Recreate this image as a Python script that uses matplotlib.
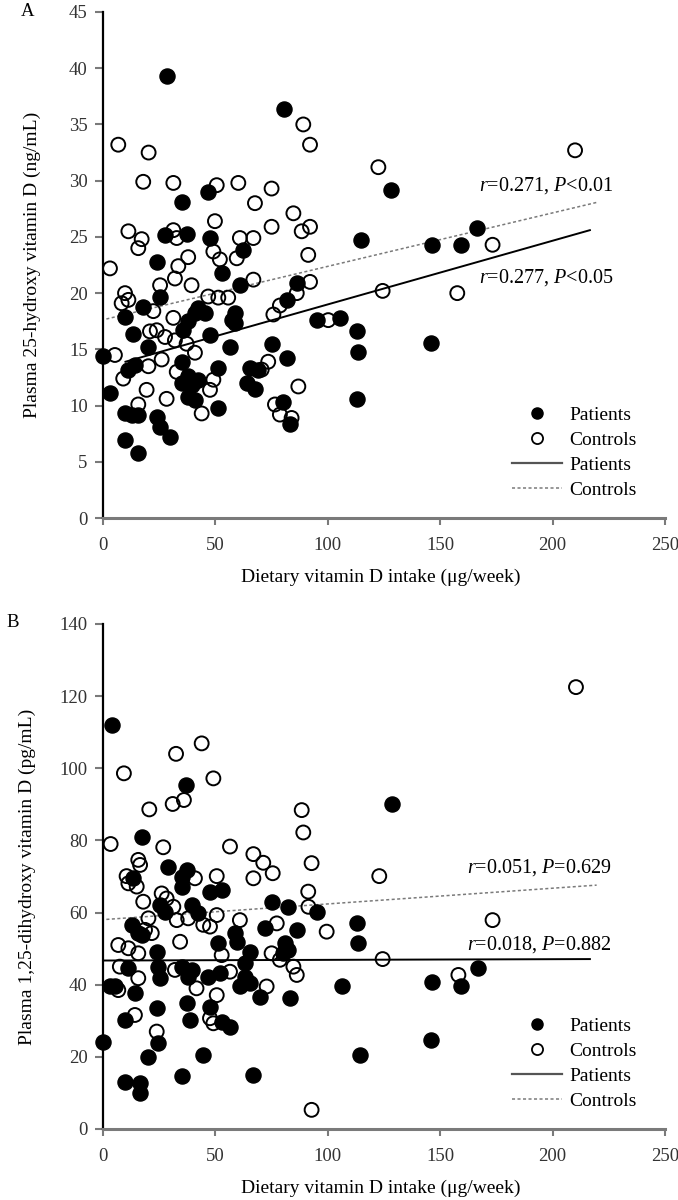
import matplotlib
matplotlib.use("Agg")
import matplotlib.pyplot as plt
from matplotlib.lines import Line2D

plt.rcParams['font.family'] = ['Liberation Serif', 'DejaVu Serif']
plt.rcParams['mathtext.fontset'] = 'custom'
plt.rcParams['mathtext.rm'] = 'Liberation Serif'
plt.rcParams['mathtext.it'] = 'Liberation Serif:italic'

# ---- panel A: 25-hydroxy vitamin D (ng/mL) vs intake ----
a_pat_x = [28.3, 80.7, 128.1, 166.5, 159.3, 146.2, 114.6, 145.8, 105.4, 112.9,
           113.6, 112.9, 95.1, 35.0, 46.8, 27.6, 37.2, 47.6, 23.9, 52.8,
           25.4, 17.9, 9.8, 40.9, 45.4, 42.4, 57.3, 13.5, 20.2, 35.7,
           47.6, 56.5, 0.0, 14.2, 11.3, 35.0, 51.3, 37.9, 42.4, 35.0,
           3.1, 37.9, 40.9, 51.3, 9.8, 15.7, 23.9, 25.4, 9.8, 29.8,
           15.7, 62.4, 60.9, 58.7, 58.7, 86.2, 81.7, 75.0, 81.7, 65.4,
           69.1, 63.9, 67.6, 80.2, 83.2, 12.7, 38.0, 39.5]
a_pat_y = [39.3, 36.4, 29.2, 25.8, 24.3, 24.3, 24.7, 15.6, 17.8, 16.6,
           14.8, 10.6, 17.6, 28.1, 29.0, 25.2, 25.3, 24.9, 22.8, 21.8,
           19.7, 18.8, 17.9, 18.2, 18.2, 18.7, 17.6, 16.4, 15.2, 16.7,
           16.3, 15.2, 14.4, 13.6, 13.2, 13.9, 13.3, 12.6, 12.3, 12.0,
           11.1, 10.8, 10.5, 9.8, 9.3, 9.2, 9.0, 8.1, 6.9, 7.2,
           5.8, 23.8, 20.7, 18.2, 17.3, 20.9, 19.4, 15.5, 14.2, 13.3,
           13.2, 12.0, 11.5, 10.3, 8.4, 9.2, 17.5, 11.8]
a_con_x = [6.8, 20.3, 89.1, 92.1, 122.5, 210.0, 173.3, 124.4, 157.6, 17.9,
           31.3, 50.6, 60.2, 75.0, 67.6, 84.7, 75.0, 88.4, 92.1, 49.8,
           11.3, 17.2, 15.7, 31.3, 32.8, 37.9, 33.5, 32.0, 39.4, 25.4,
           3.1, 49.1, 52.0, 60.9, 66.9, 59.5, 91.3, 66.9, 92.1, 9.8,
           8.3, 11.3, 22.4, 31.3, 46.8, 51.3, 55.7, 78.7, 75.8, 86.2,
           100.2, 20.9, 23.9, 27.6, 32.0, 40.9, 37.2, 5.3, 20.2, 26.1,
           9.0, 32.8, 19.4, 28.3, 47.6, 43.9, 15.7, 73.5, 70.6, 86.9,
           76.5, 78.7, 83.9, 49.1]
a_con_y = [33.2, 32.5, 35.0, 33.2, 31.2, 32.7, 24.3, 20.2, 20.0, 29.9,
           29.8, 29.6, 29.8, 29.3, 28.0, 27.1, 25.9, 25.5, 25.9, 26.4,
           25.5, 24.8, 24.0, 25.6, 24.9, 23.2, 22.4, 21.3, 20.7, 20.7,
           22.2, 23.7, 23.0, 24.9, 24.9, 23.1, 23.4, 21.2, 21.0, 20.0,
           19.1, 19.4, 18.4, 17.8, 19.7, 19.6, 19.6, 18.9, 18.1, 20.0,
           17.6, 16.6, 16.7, 16.1, 15.8, 14.7, 15.5, 14.5, 13.5, 14.1,
           12.4, 13.0, 11.4, 10.6, 11.4, 9.3, 10.1, 13.9, 13.2, 11.7,
           10.1, 9.2, 8.9, 12.3]
a_fit_pat_x = [10, 216.6]
a_fit_pat_y = [13.9, 25.6]
a_fit_con_x = [1.5, 220.3]
a_fit_con_y = [17.7, 28.1]
a_txt_con = r'$r$=0.271, $P$<0.01'
a_txt_pat = r'$r$=0.277, $P$<0.05'

# ---- panel B: 1,25-dihydroxy vitamin D (pg/mL) vs intake ----
b_pat_x = [3.9, 36.8, 17.5, 128.4, 13.5, 29.1, 37.2, 35.0, 35.0, 47.6,
           52.8, 25.4, 27.6, 39.5, 42.4, 12.7, 15.7, 23.9, 51.3, 11.3,
           24.6, 25.4, 35.0, 39.4, 3.1, 5.3, 14.2, 46.8, 52.0, 23.9,
           37.2, 38.7, 47.6, 9.8, 52.8, 56.5, 0.0, 24.6, 20.2, 44.6,
           35.0, 9.8, 16.5, 16.5, 75.0, 82.4, 95.1, 112.9, 113.6, 58.7,
           59.5, 72.1, 86.2, 80.9, 82.4, 80.2, 65.4, 63.2, 63.2, 60.9,
           65.4, 69.8, 83.2, 106.2, 66.9, 114.3, 167.0, 146.2, 159.1, 145.8,
           17.2, 38.0]
b_pat_y = [112.0, 95.4, 80.9, 90.1, 69.5, 72.5, 71.8, 67.0, 69.8, 65.8,
           66.3, 62.1, 60.2, 62.0, 59.8, 56.6, 54.3, 49.2, 51.5, 44.5,
           45.0, 41.8, 45.0, 44.1, 39.5, 39.5, 37.6, 42.2, 43.2, 33.5,
           34.8, 30.2, 33.9, 30.2, 29.7, 28.4, 24.2, 23.8, 20.0, 20.5,
           14.7, 13.1, 12.7, 9.9, 63.0, 61.6, 60.2, 57.0, 51.5, 54.3,
           51.9, 55.6, 55.2, 51.5, 49.6, 48.7, 49.2, 45.9, 42.2, 39.5,
           40.4, 36.7, 36.2, 39.5, 15.0, 20.5, 44.7, 40.8, 39.6, 24.7,
           53.8, 42.2]
b_con_x = [9.3, 32.5, 43.9, 49.1, 36.0, 31.0, 20.6, 3.4, 26.8, 56.5,
           66.9, 71.3, 75.5, 66.9, 88.4, 89.1, 92.8, 91.3, 16.5, 15.7,
           10.5, 11.3, 40.9, 50.6, 15.0, 17.9, 26.1, 28.3, 31.3, 32.8,
           37.9, 44.6, 47.6, 50.6, 20.2, 21.7, 6.8, 11.3, 15.7, 34.3,
           52.8, 7.5, 15.7, 32.0, 6.8, 41.6, 50.6, 14.2, 47.6, 49.1,
           23.9, 91.4, 99.5, 60.9, 77.3, 75.0, 78.7, 84.7, 86.2, 72.8,
           56.5, 92.8, 210.4, 122.9, 173.3, 124.4, 158.1, 18.7]
b_con_y = [98.6, 104.0, 106.9, 97.2, 91.2, 90.1, 88.6, 79.0, 78.1, 78.3,
           76.2, 73.8, 70.9, 69.5, 88.4, 82.2, 73.7, 65.8, 73.2, 74.6,
           70.1, 68.1, 69.5, 70.1, 67.2, 63.0, 65.3, 63.9, 61.6, 57.9,
           58.4, 56.6, 56.1, 59.3, 58.4, 54.3, 51.0, 50.1, 48.7, 51.9,
           48.2, 45.0, 41.8, 44.1, 38.5, 39.0, 37.1, 31.6, 30.7, 29.3,
           27.0, 61.6, 54.7, 57.9, 57.0, 48.7, 46.9, 45.0, 42.7, 39.5,
           43.6, 5.3, 122.5, 70.1, 57.9, 47.1, 42.7, 55.2]
b_fit_pat_x = [0, 216.6]
b_fit_pat_y = [46.7, 47.1]
b_fit_con_x = [1.5, 219.6]
b_fit_con_y = [58.1, 67.6]
b_txt_con = r'$r$=0.051, $P$=0.629'
b_txt_pat = r'$r$=0.018, $P$=0.882'

xlabel = 'Dietary vitamin D intake (μg/week)'
a_ylabel = 'Plasma 25-hydroxy vitamin D (ng/mL)'
b_ylabel = 'Plasma 1,25-dihydroxy vitamin D (pg/mL)'

FS = 13.5
GRAY = '#7a7a7a'


def draw_panel(ax, px, py, cx, cy, fpx, fpy, fcx, fcy, ymax, ystep,
               txt_con, pos_con, txt_pat, pos_pat, ylabel, ylab_x):
    ax.plot(fcx, fcy, color=GRAY, lw=1.1, ls=(0, (2, 1.6)), zorder=1)
    ax.plot(fpx, fpy, color='black', lw=1.4, zorder=1)
    ax.scatter(px, py, s=118, color='black', zorder=3, clip_on=False)
    ax.scatter(cx, cy, s=100, facecolors='none', edgecolors='black',
               linewidths=1.4, zorder=4, clip_on=False)
    ax.text(pos_con[0], pos_con[1], txt_con, fontsize=FS + 1, ha='center', va='center')
    ax.text(pos_pat[0], pos_pat[1], txt_pat, fontsize=FS + 1, ha='center', va='center')

    ax.set_xlim(0, 250)
    ax.set_ylim(0, ymax)
    ax.set_xticks(range(0, 251, 50))
    ax.set_yticks(range(0, ymax + 1, ystep))
    for s in ['top', 'right']:
        ax.spines[s].set_visible(False)
    ax.spines['left'].set_linewidth(1.6)
    ax.spines['left'].set_color('black')
    ax.spines['bottom'].set_linewidth(2.2)
    ax.spines['bottom'].set_color(GRAY)
    ax.tick_params(axis='y', direction='out', length=6, width=1.5, color=GRAY,
                   labelsize=FS, labelcolor='#333333', pad=5)
    ax.tick_params(axis='x', direction='out', length=5, width=1.5, color=GRAY,
                   labelsize=FS, labelcolor='#333333', pad=9)

    ax.set_xlabel(xlabel, fontsize=FS + 0.5)
    ax.xaxis.set_label_coords(0.495, -0.118)
    ax.xaxis.label.set_va('center')
    ax.set_ylabel(ylabel, fontsize=FS + 0.5)
    ax.yaxis.set_label_coords(ylab_x, 0.5)
    ax.yaxis.label.set_va('center')

    handles = [
        Line2D([], [], ls='none', marker='o', ms=8, color='black'),
        Line2D([], [], ls='none', marker='o', ms=8, mfc='none', mec='black', mew=1.3),
        Line2D([], [], color='#555555', lw=1.6),
        Line2D([], [], color=GRAY, lw=1.1, ls=(0, (2, 1.6))),
    ]
    ax.legend(handles, ['Patients', 'Controls', 'Patients', 'Controls'],
              loc='upper left', bbox_to_anchor=(0.727, 0.221), frameon=False,
              fontsize=FS + 0.5, handlelength=2.6, handletextpad=0.35,
              labelspacing=0.38, borderpad=0, borderaxespad=0)


fig = plt.figure(figsize=(6.78, 12), dpi=100)
axA = fig.add_axes([0.1519, 0.5683, 0.8289, 0.4217])
axB = fig.add_axes([0.1519, 0.0592, 0.8289, 0.4208])

draw_panel(axA, a_pat_x, a_pat_y, a_con_x, a_con_y,
           a_fit_pat_x, a_fit_pat_y, a_fit_con_x, a_fit_con_y, 45, 5,
           a_txt_con, (197, 29.6), a_txt_pat, (197, 21.4), a_ylabel, -0.125)
draw_panel(axB, b_pat_x, b_pat_y, b_con_x, b_con_y,
           b_fit_pat_x, b_fit_pat_y, b_fit_con_x, b_fit_con_y, 140, 20,
           b_txt_con, (194, 72.6), b_txt_pat, (194, 51.0), b_ylabel, -0.135)

fig.text(0.040, 0.990, 'A', fontsize=FS, ha='center', va='center')
fig.text(0.018, 0.481, 'B', fontsize=FS, ha='center', va='center')

fig.savefig('out.png', dpi=100)
